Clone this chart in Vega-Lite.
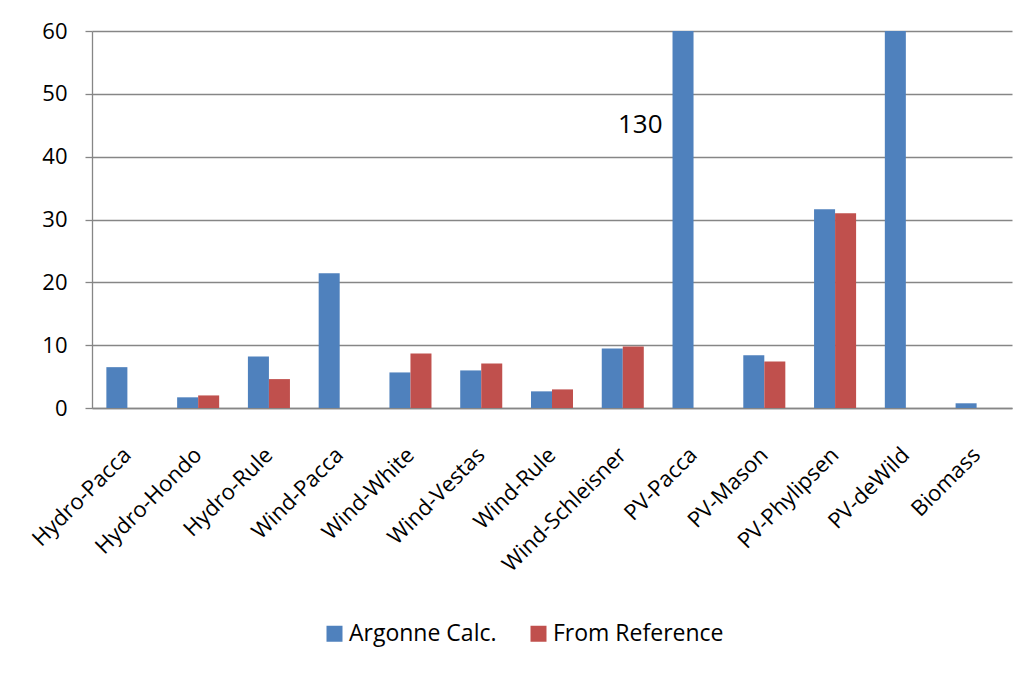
{
  "$schema": "https://vega.github.io/schema/vega-lite/v6.json",
  "width": 920,
  "height": 377,
  "autosize": {"type": "none"},
  "padding": {"left": 92, "top": 31, "right": 19, "bottom": 265},
  "background": "white",
  "config": {
    "view": {"stroke": null},
    "font": "Open Sans",
    "axis": {"labelFont": "Open Sans", "labelColor": "black"},
    "legend": {"labelFont": "Open Sans"}
  },
  "datasets": {
    "bars": [
      {"category": "Hydro-Pacca", "series": "Argonne Calc.", "value": 6.5},
      {"category": "Hydro-Hondo", "series": "Argonne Calc.", "value": 1.7},
      {"category": "Hydro-Hondo", "series": "From Reference", "value": 2.0},
      {"category": "Hydro-Rule", "series": "Argonne Calc.", "value": 8.2},
      {"category": "Hydro-Rule", "series": "From Reference", "value": 4.6},
      {"category": "Wind-Pacca", "series": "Argonne Calc.", "value": 21.45},
      {"category": "Wind-White", "series": "Argonne Calc.", "value": 5.66},
      {"category": "Wind-White", "series": "From Reference", "value": 8.68},
      {"category": "Wind-Vestas", "series": "Argonne Calc.", "value": 5.98},
      {"category": "Wind-Vestas", "series": "From Reference", "value": 7.09},
      {"category": "Wind-Rule", "series": "Argonne Calc.", "value": 2.65},
      {"category": "Wind-Rule", "series": "From Reference", "value": 2.96},
      {"category": "Wind-Schleisner", "series": "Argonne Calc.", "value": 9.47},
      {"category": "Wind-Schleisner", "series": "From Reference", "value": 9.79},
      {"category": "PV-Pacca", "series": "Argonne Calc.", "value": 130},
      {"category": "PV-Mason", "series": "Argonne Calc.", "value": 8.4},
      {"category": "PV-Mason", "series": "From Reference", "value": 7.4},
      {"category": "PV-Phylipsen", "series": "Argonne Calc.", "value": 31.65},
      {"category": "PV-Phylipsen", "series": "From Reference", "value": 31.0},
      {"category": "PV-deWild", "series": "Argonne Calc.", "value": 100},
      {"category": "Biomass", "series": "Argonne Calc.", "value": 0.75}
    ],
    "notes": [
      {"category": "PV-Pacca", "labelY": 45, "label": "130"}
    ]
  },
  "layer": [
    {
      "data": {"name": "bars"},
      "mark": {"type": "bar", "clip": true},
      "encoding": {
        "x": {
          "field": "category",
          "type": "nominal",
          "scale": {
            "domain": ["Hydro-Pacca","Hydro-Hondo","Hydro-Rule","Wind-Pacca","Wind-White","Wind-Vestas","Wind-Rule","Wind-Schleisner","PV-Pacca","PV-Mason","PV-Phylipsen","PV-deWild","Biomass"],
            "paddingInner": 0.406,
            "paddingOuter": 0.203
          },
          "axis": {
            "title": null,
            "labelAngle": -45,
            "labelFontSize": 22,
            "labelBaseline": "middle",
            "labelAlign": "right",
            "labelPadding": 43,
            "labelLimit": 400,
            "ticks": false,
            "domain": true,
            "domainColor": "#868686",
            "domainWidth": 1.3,
            "grid": false
          }
        },
        "xOffset": {
          "field": "series",
          "type": "nominal",
          "scale": {"domain": ["Argonne Calc.", "From Reference"]}
        },
        "y": {
          "field": "value",
          "type": "quantitative",
          "scale": {"domain": [0, 60], "nice": false},
          "axis": {
            "title": null,
            "values": [0,5,10,15,20,25,30,35,40,45,50,55,60],
            "labelExpr": "datum.value % 10 === 0 ? datum.label : ''",
            "labelFontSize": 22,
            "labelPadding": 18,
            "tickSize": 7,
            "tickColor": "#868686",
            "tickWidth": 1.3,
            "domainColor": "#868686",
            "domainWidth": 1.3,
            "grid": true,
            "gridColor": "#868686",
            "gridWidth": 1.3,
            "gridOpacity": {"condition": {"test": "datum.value % 10 === 0", "value": 1}, "value": 0}
          }
        },
        "color": {
          "field": "series",
          "type": "nominal",
          "scale": {"domain": ["Argonne Calc.", "From Reference"], "range": ["#4F81BD", "#C0504D"]},
          "legend": {
            "title": null,
            "orient": "none",
            "direction": "horizontal",
            "legendX": 231,
            "legendY": 591,
            "symbolType": "square",
            "symbolSize": 256,
            "symbolStrokeWidth": 0,
            "labelFontSize": 23,
            "labelOffset": 3,
            "labelLimit": 400,
            "columnPadding": 30
          }
        }
      }
    },
    {
      "data": {"name": "notes"},
      "mark": {"type": "text", "fontSize": 26, "align": "right", "baseline": "middle", "dx": -31, "color": "black", "font": "Open Sans"},
      "encoding": {
        "x": {"field": "category", "type": "nominal"},
        "y": {"field": "labelY", "type": "quantitative"},
        "text": {"field": "label"}
      }
    }
  ]
}
